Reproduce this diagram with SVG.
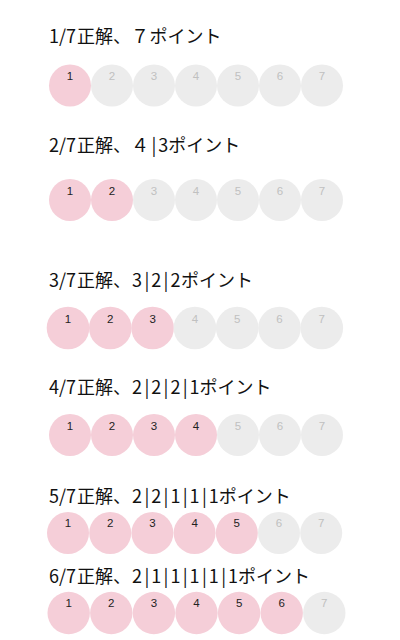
<svg xmlns="http://www.w3.org/2000/svg" width="400" height="640" viewBox="0 0 400 640">
<style>
.t{font-family:"Noto Sans CJK JP","Noto Sans",sans-serif;font-size:18px;fill:#111}
.on{fill:#f5ced8}
.off{fill:#ececec}
.n{font-family:"Liberation Sans",Arial,sans-serif;font-size:11.5px;text-anchor:middle}
.nb{fill:#222}
.ng{fill:#c0c0c0}
</style>
<rect width="400" height="640" fill="#fff"/>
<g id="row1">
<text class="t" x="49" y="43">1/7<tspan x="77">正解、</tspan><tspan x="131">７</tspan><tspan x="149.5">ポイント</tspan></text>
<g transform="translate(70,85.5)">
<circle class="on" cx="0" r="21"/><circle class="off" cx="42" r="21"/><circle class="off" cx="84" r="21"/><circle class="off" cx="126" r="21"/><circle class="off" cx="168" r="21"/><circle class="off" cx="210" r="21"/><circle class="off" cx="252" r="21"/>
<text class="n nb" x="0" y="-5.5">1</text><text class="n ng" x="42" y="-5.5">2</text><text class="n ng" x="84" y="-5.5">3</text><text class="n ng" x="126" y="-5.5">4</text><text class="n ng" x="168" y="-5.5">5</text><text class="n ng" x="210" y="-5.5">6</text><text class="n ng" x="252" y="-5.5">7</text>
</g>
</g>
<g id="row2">
<text class="t" x="49" y="152">2/7<tspan x="77">正解、</tspan><tspan x="131 151.4 158.2 168.2">４|3ポイント</tspan></text>
<g transform="translate(70,200)">
<circle class="on" cx="0" r="21"/><circle class="on" cx="42" r="21"/><circle class="off" cx="84" r="21"/><circle class="off" cx="126" r="21"/><circle class="off" cx="168" r="21"/><circle class="off" cx="210" r="21"/><circle class="off" cx="252" r="21"/>
<text class="n nb" x="0" y="-5.5">1</text><text class="n nb" x="42" y="-5.5">2</text><text class="n ng" x="84" y="-5.5">3</text><text class="n ng" x="126" y="-5.5">4</text><text class="n ng" x="168" y="-5.5">5</text><text class="n ng" x="210" y="-5.5">6</text><text class="n ng" x="252" y="-5.5">7</text>
</g>
</g>
<g id="row3">
<text class="t" x="49" y="287">3/7<tspan x="77">正解、</tspan><tspan x="132 144.4 151.2 163.6 170.4 181">3|2|2ポイント</tspan></text>
<g transform="translate(68,328)">
<circle class="on" cx="0" r="21.3"/><circle class="on" cx="42.3" r="21.3"/><circle class="on" cx="84.6" r="21.3"/><circle class="off" cx="126.9" r="21.3"/><circle class="off" cx="169.2" r="21.3"/><circle class="off" cx="211.5" r="21.3"/><circle class="off" cx="253.8" r="21.3"/>
<text class="n nb" x="0" y="-5">1</text><text class="n nb" x="42.3" y="-5">2</text><text class="n nb" x="84.6" y="-5">3</text><text class="n ng" x="126.9" y="-5">4</text><text class="n ng" x="169.2" y="-5">5</text><text class="n ng" x="211.5" y="-5">6</text><text class="n ng" x="253.8" y="-5">7</text>
</g>
</g>
<g id="row4">
<text class="t" x="49" y="394">4/7<tspan x="77">正解、</tspan><tspan x="132 144.4 151.2 163.6 170.4 182.8 189.6 199.6">2|2|2|1ポイント</tspan></text>
<g transform="translate(70,435)">
<circle class="on" cx="0" r="21"/><circle class="on" cx="42" r="21"/><circle class="on" cx="84" r="21"/><circle class="on" cx="126" r="21"/><circle class="off" cx="168" r="21"/><circle class="off" cx="210" r="21"/><circle class="off" cx="252" r="21"/>
<text class="n nb" x="0" y="-5.5">1</text><text class="n nb" x="42" y="-5.5">2</text><text class="n nb" x="84" y="-5.5">3</text><text class="n nb" x="126" y="-5.5">4</text><text class="n ng" x="168" y="-5.5">5</text><text class="n ng" x="210" y="-5.5">6</text><text class="n ng" x="252" y="-5.5">7</text>
</g>
</g>
<g id="row5">
<text class="t" x="49" y="503">5/7<tspan x="77">正解、</tspan><tspan x="132 144.4 151.2 163.6 170.4 182.8 189.6 202 208.8 218.8">2|2|1|1|1ポイント</tspan></text>
<g transform="translate(68,533)">
<circle class="on" cx="0" r="21"/><circle class="on" cx="42.2" r="21"/><circle class="on" cx="84.4" r="21"/><circle class="on" cx="126.6" r="21"/><circle class="on" cx="168.8" r="21"/><circle class="off" cx="211" r="21"/><circle class="off" cx="253.2" r="21"/>
<text class="n nb" x="0" y="-6">1</text><text class="n nb" x="42.2" y="-6">2</text><text class="n nb" x="84.4" y="-6">3</text><text class="n nb" x="126.6" y="-6">4</text><text class="n nb" x="168.8" y="-6">5</text><text class="n ng" x="211" y="-6">6</text><text class="n ng" x="253.2" y="-6">7</text>
</g>
</g>
<g id="row6">
<text class="t" x="49" y="583">6/7<tspan x="77">正解、</tspan><tspan x="132 144.4 151.2 163.6 170.4 182.8 189.6 202 208.8 221.2 228 238">2|1|1|1|1|1ポイント</tspan></text>
<g transform="translate(68.7,613)">
<circle class="on" cx="0" r="21.2"/><circle class="on" cx="42.6" r="21.2"/><circle class="on" cx="85.2" r="21.2"/><circle class="on" cx="127.8" r="21.2"/><circle class="on" cx="170.4" r="21.2"/><circle class="on" cx="213" r="21.2"/><circle class="off" cx="255.6" r="21.2"/>
<text class="n nb" x="0" y="-6">1</text><text class="n nb" x="42.6" y="-6">2</text><text class="n nb" x="85.2" y="-6">3</text><text class="n nb" x="127.8" y="-6">4</text><text class="n nb" x="170.4" y="-6">5</text><text class="n nb" x="213" y="-6">6</text><text class="n ng" x="255.6" y="-6">7</text>
</g>
</g>
</svg>
